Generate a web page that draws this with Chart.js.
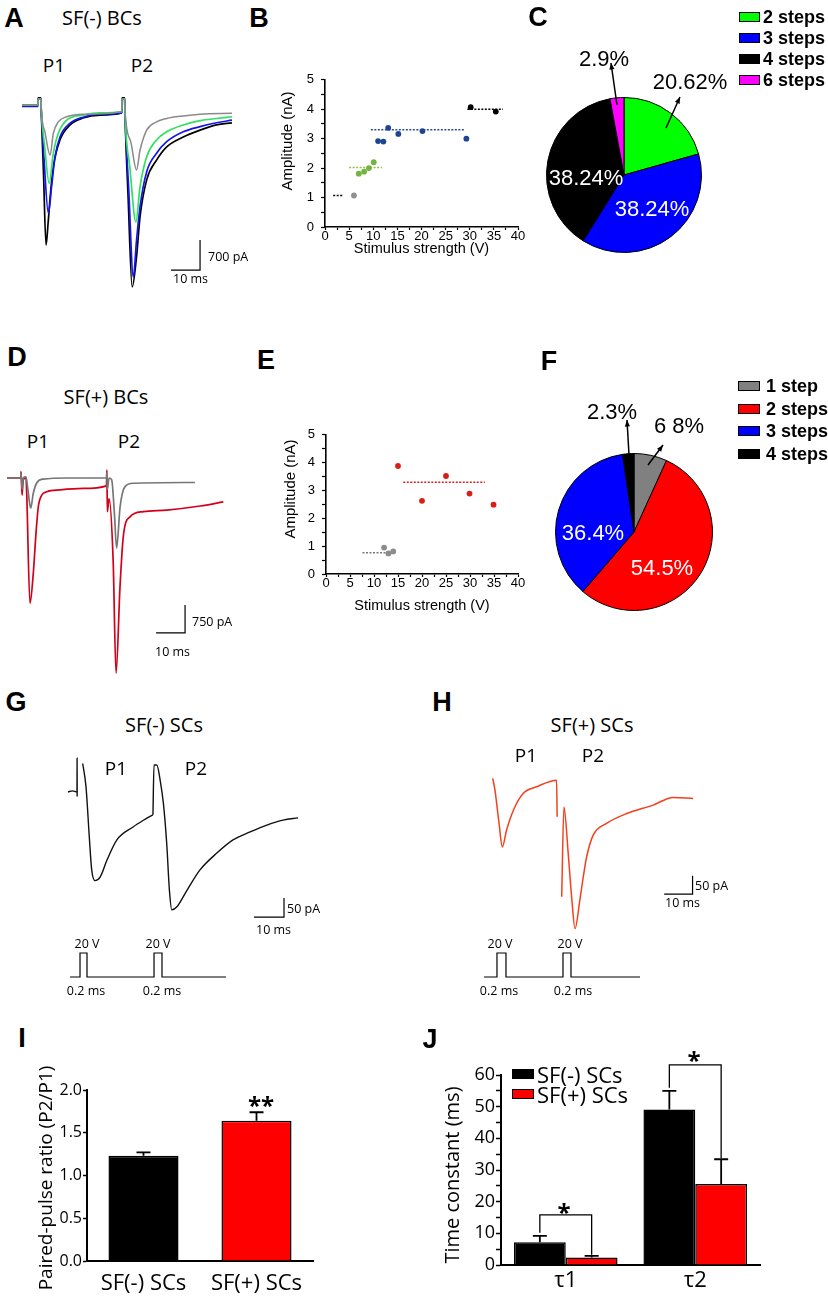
<!DOCTYPE html>
<html>
<head>
<meta charset="utf-8">
<script src="https://cdn.jsdelivr.net/npm/chart.js"></script>
<style>
  body { margin: 0; background: #fff; }
  #fig { position: relative; width: 828px; height: 1300px; overflow: hidden; background: #fff; color: #000; font-family: 'Open Sans', sans-serif; }
  #fig canvas { position: absolute; }
  .t { position: absolute; white-space: nowrap; line-height: 1; transform: translate(-50%, -50%); }
  .t.l { transform: translate(0, -50%); }
  .t.rot { writing-mode: vertical-rl; transform: translate(-50%, -50%) rotate(180deg); }
  .let { font-family: 'Liberation Sans', Arial, sans-serif; font-weight: bold; font-size: 27px; }
  .ttl { font-size: 20px; }
  .p { font-size: 19px; }
  .sb, .st { font-size: 12.5px; }
  .pct { font-family: 'Liberation Sans', Arial, sans-serif; font-size: 22px; }
  .leg { font-family: 'Liberation Sans', Arial, sans-serif; font-weight: bold; font-size: 18px; }
  .jleg { font-size: 22px; }
  .star { font-size: 24px; font-weight: bold; }
  .ya { font-family: 'Liberation Sans', Arial, sans-serif; font-size: 15px; }
  .yj { font-size: 20px; }
  .box { position: absolute; box-sizing: border-box; border: 1px solid #000; }
</style>
</head>
<body>
<div id="fig">
  <canvas id="cA" width="230" height="210" style="left:15px;top:88px"></canvas>
  <canvas id="cB" width="260" height="200" style="left:270px;top:65px"></canvas>
  <canvas id="cC" width="288" height="262" style="left:540px;top:0px"></canvas>
  <canvas id="cD" width="240" height="225" style="left:0px;top:455px"></canvas>
  <canvas id="cE" width="260" height="200" style="left:270px;top:420px"></canvas>
  <canvas id="cF" width="288" height="280" style="left:540px;top:340px"></canvas>
  <canvas id="cG" width="260" height="185" style="left:55px;top:745px"></canvas>
  <canvas id="cGs" width="180" height="42" style="left:60px;top:945px"></canvas>
  <canvas id="cH" width="235" height="180" style="left:480px;top:760px"></canvas>
  <canvas id="cHs" width="180" height="42" style="left:475px;top:945px"></canvas>
  <canvas id="cI" width="305" height="245" style="left:25px;top:1055px"></canvas>
  <canvas id="cJ" width="340" height="260" style="left:430px;top:1040px"></canvas>
</div>
<script>
// ---------- A: SF(-) BCs, [time ms, current nA]
const A_GREY = [[0,-0.05],[5.5,-0.05],[5.55,0.1],[6.5,0.1],[6.6,-0.1],[8.0,-0.7],[9.7,-1.21],[10.8,-0.71],[12.5,-0.44],[15.4,-0.32],[21.1,-0.26],[34.4,-0.2],
  [34.5,0.1],[35.4,0.1],[35.5,-0.15],[37.5,-0.9],[39.5,-1.56],[40.7,-1.10],[43.0,-0.63],[46.4,-0.44],[49.9,-0.36],[55.6,-0.30],[61.4,-0.26],[72.4,-0.24]];
const A_GREEN = [[0,-0.05],[5.5,-0.05],[5.55,0.1],[6.5,0.1],[6.6,-0.1],[7.8,-1.0],[9.4,-1.87],[10.8,-1.17],[12.5,-0.71],[15.4,-0.40],[21.1,-0.28],[26.9,-0.23],[34.4,-0.2],
  [34.5,0.1],[35.4,0.1],[35.5,-0.2],[37.2,-1.5],[39.3,-2.77],[40.7,-1.95],[43.0,-1.25],[46.4,-0.86],[49.9,-0.67],[55.6,-0.51],[61.4,-0.41],[67.1,-0.36],[72.4,-0.32]];
const A_BLUE = [[0,-0.08],[5.5,-0.08],[5.55,0.1],[6.5,0.1],[6.6,-0.1],[7.6,-1.3],[9.1,-2.57],[10.2,-1.95],[11.4,-1.25],[13.1,-0.79],[16.6,-0.47],[21.1,-0.33],[26.9,-0.26],[34.4,-0.23],
  [34.5,0.1],[35.4,0.1],[35.5,-0.2],[36.8,-2.0],[38.4,-4.05],[39.5,-3.2],[40.7,-2.42],[43.0,-1.6],[46.4,-1.17],[49.9,-0.90],[55.6,-0.67],[61.4,-0.55],[67.1,-0.46],[72.4,-0.40]];
const A_BLACK = [[0,-0.05],[5.5,-0.05],[5.55,0.12],[6.5,0.12],[6.6,-0.1],[7.4,-1.6],[8.3,-3.31],[9.0,-2.8],[9.7,-2.2],[10.8,-1.49],[13.1,-0.86],[16.6,-0.51],[21.0,-0.35],[26.9,-0.28],[34.4,-0.23],
  [34.5,0.12],[35.4,0.12],[35.5,-0.2],[36.6,-2.2],[38.0,-4.28],[39.5,-3.58],[40.7,-2.65],[43.0,-1.79],[46.4,-1.33],[49.9,-1.02],[55.6,-0.79],[61.4,-0.63],[67.1,-0.51],[72.4,-0.46]];
const A_SCALE = [[61.4,-3.19],[61.4,-3.89],[51.4,-3.89]];   // 700 pA, 10 ms

// ---------- B: amplitude (nA) vs stimulus (V), grouped by number of steps
const B_V1 = [6.0],                          B_A1 = [1.07];
const B_V2 = [7.0, 8.1, 9.1, 10.1],          B_A2 = [1.81, 1.88, 2.0, 2.2];
const B_V3 = [11.0, 12.1, 13.1, 15.2, 20.2, 29.3], B_A3 = [2.92, 2.9, 3.37, 3.16, 3.26, 3.0];
const B_V4 = [30.2, 35.4],                   B_A4 = [4.07, 3.92];
const B_MEAN = [1.07, 2.02, 3.3, 4.0];
const B_MEAN_FROM = [1.7, 5.0, 9.5, 29.5];
const B_MEAN_TO = [3.7, 11.8, 28.8, 36.9];

// ---------- C: share of steps
const C_LABELS = ['2 steps', '3 steps', '4 steps', '6 steps'];
const C_VALUES = [20.62, 38.24, 38.24, 2.9];
const C_COLORS = ['#00ff00', '#0000ff', '#000000', '#ff00ff'];

// ---------- D: SF(+) BCs
const D_GREY = [[0,0],[4.8,0],[4.83,0.15],[5.2,-0.3],[5.6,0],[6.55,0.03],[7.2,-0.3],[8.17,-0.81],[9.07,-0.41],[10.2,-0.14],[12.5,-0.03],[20.7,0],[34.3,0],
  [34.45,0.15],[34.6,-0.3],[35.2,0],[36.1,-0.05],[37.0,-0.9],[37.8,-1.88],[39.0,-0.77],[40.7,-0.23],[43.6,-0.14],[64.8,-0.12]];
const D_RED = [[0,0],[4.8,0],[4.83,0.17],[5.2,-0.46],[5.6,-0.05],[6.55,0],[6.8,-0.41],[7.93,-3.36],[9.07,-2.55],[10.0,-1.48],[10.8,-0.77],[12.0,-0.46],[13.7,-0.37],[18.3,-0.32],[26.3,-0.28],[34.3,-0.21],
  [34.45,0.21],[34.6,-0.9],[35.2,-0.55],[36.6,-2.2],[37.6,-5.23],[38.97,-2.91],[40.1,-1.57],[42.4,-1.04],[47.0,-0.90],[55.1,-0.86],[66.6,-0.75],[74.6,-0.64]];
const D_SCALE = [[61.4,-3.40],[61.4,-4.15],[51.4,-4.15]];   // 750 pA, 10 ms

// ---------- E
const E_V1 = [12.1, 13.0, 14.0],             E_A1 = [0.95, 0.74, 0.81];
const E_V2 = [15.0, 20.0, 25.0, 29.9, 34.9], E_A2 = [3.88, 2.63, 3.52, 2.89, 2.49];
const E_MEAN = [0.76, 3.30];
const E_MEAN_FROM = [7.6, 16.1];
const E_MEAN_TO = [13.8, 33.1];

// ---------- F
const F_LABELS = ['1 step', '2 steps', '3 steps', '4 steps'];
const F_VALUES = [6.8, 54.5, 36.4, 2.3];
const F_COLORS = ['#808080', '#ff0000', '#0000ff', '#000000'];
const F_PCT_TEXT = ['6 8%', '54.5%', '36.4%', '2.3%'];

// ---------- G / H: SCs, [time ms, current pA]; null = gap
const G_TRACE = [[0,0],[1.5,3],[3.0,0],[3.03,89],[3.06,-12],[3.1,null],[4.9,75],[6.0,14],[7.1,-118],[7.9,-205],[9.0,-233],[10.7,-224],[13.0,-179],[16.3,-126],[21.7,-92],[25.0,-75],[28.3,-60],[28.31,null],
  [28.32,-60],[28.67,71],[29.6,71],[30.7,32],[31.8,-30],[32.9,-135],[33.8,-258],[34.6,-310],[36.3,-302],[39.7,-258],[44.0,-205],[49.7,-160],[55.0,-126],[60.7,-105],[66.3,-87],[71.7,-74],[76.7,-68]];
const G_SCALE = [[72,-279],[72,-329],[62,-329]];   // 50 pA, 10 ms
const G_STIM = [[0.67,0],[4.0,20],[6.33,0],[28.67,20],[31.33,0],[52.67,0]];   // V

const H_TRACE = [[0,0],[0.8,-32],[2.2,-120],[3.4,-187],[4.9,-141],[7.3,-87],[10.8,-41],[15.5,-23],[22.5,-5],[22.7,-105],[23.0,null],
  [24.3,-323],[25.1,-78],[26.6,-205],[27.8,-323],[29.0,-410],[30.7,-332],[31.9,-269],[33.1,-214],[35.4,-155],[40.1,-123],[47.2,-96],[56.5,-73],[63.6,-52],[70.6,-55]];
const H_SCALE = [[70.4,-266],[70.4,-316],[60.4,-316]];
const H_STIM = [[-3.06,0],[1.51,20],[4.68,0],[24.75,20],[27.57,0],[51.87,0]];

// ---------- I: paired-pulse ratio
const I_GROUPS = ['SF(-) SCs', 'SF(+) SCs'];
const I_RATIO = [1.23, 1.64];
const I_SEM = [0.04, 0.10];
const I_COLORS = ['#000000', '#ff0000'];

// ---------- J: decay time constants (ms)
const J_GROUPS = ['τ1', 'τ2'];
const J_SERIES = ['SF(-) SCs', 'SF(+) SCs'];
const J_COLORS = ['#000000', '#ff0000'];
const J_NEG = [7.2, 49.1], J_NEG_SEM = [2.0, 5.9];
const J_POS = [2.4, 25.6], J_POS_SEM = [0.5, 7.8];
const J_SIG_LEVEL = [15.8, 63.2];

// ---------- page helpers
const fig = document.getElementById('fig');
function addText(str, x, y, cls, color) {
  const d = document.createElement('div');
  d.className = 't ' + cls;
  d.textContent = str;
  d.style.left = x + 'px';
  d.style.top = y + 'px';
  if (color) d.style.color = color;
  fig.appendChild(d);
}
function addBox(x, y, w, h, color) {
  const d = document.createElement('div');
  d.className = 'box';
  Object.assign(d.style, { left: x + 'px', top: y + 'px', width: w + 'px', height: h + 'px', background: color });
  fig.appendChild(d);
}

Chart.defaults.animation = false;
Chart.defaults.responsive = false;
Chart.defaults.events = [];
Chart.defaults.color = '#000';
Chart.defaults.font.family = "'Open Sans', sans-serif";
Chart.defaults.plugins.legend.display = false;
Chart.defaults.plugins.tooltip.enabled = false;

// arrows, error bars, significance brackets, long y title
const extras = {
  id: 'extras',
  afterDatasetsDraw(chart, args, o) {
    const ctx = chart.ctx;
    ctx.save();
    ctx.strokeStyle = '#000';
    ctx.fillStyle = '#000';
    ctx.lineWidth = 1.5;
    (o.arrows || []).forEach(([x1, y1, x2, y2]) => {
      ctx.beginPath(); ctx.moveTo(x1, y1); ctx.lineTo(x2, y2); ctx.stroke();
      const a = Math.atan2(y2 - y1, x2 - x1), h = 7;
      ctx.beginPath();
      ctx.moveTo(x2, y2);
      ctx.lineTo(x2 - h * Math.cos(a - 0.38), y2 - h * Math.sin(a - 0.38));
      ctx.lineTo(x2 - h * Math.cos(a + 0.38), y2 - h * Math.sin(a + 0.38));
      ctx.closePath(); ctx.fill();
    });
    if (o.errorBars) {
      const y = chart.scales.y;
      ctx.lineWidth = 1.8;
      chart.data.datasets.forEach((ds, i) => {
        chart.getDatasetMeta(i).data.forEach((bar, j) => {
          const top = y.getPixelForValue(ds.data[j] + ds.errors[j]);
          ctx.beginPath();
          ctx.moveTo(bar.x, bar.y); ctx.lineTo(bar.x, top);
          ctx.moveTo(bar.x - o.cap, top); ctx.lineTo(bar.x + o.cap, top);
          ctx.stroke();
        });
      });
    }
    (o.brackets || []).forEach((level, j) => {
      const y = chart.scales.y;
      const d0 = chart.data.datasets[0], d1 = chart.data.datasets[1];
      const a = chart.getDatasetMeta(0).data[j], b = chart.getDatasetMeta(1).data[j];
      const yl = y.getPixelForValue(level);
      ctx.lineWidth = 1.3;
      ctx.beginPath();
      ctx.moveTo(a.x, y.getPixelForValue(d0.data[j] + d0.errors[j]) - 3);
      ctx.lineTo(a.x, yl); ctx.lineTo(b.x, yl);
      ctx.lineTo(b.x, y.getPixelForValue(d1.data[j] + d1.errors[j]) - 1);
      ctx.stroke();
    });
    if (o.yTitle) {
      // axis title longer than the axis: Chart.js would squeeze it, so draw it unclamped
      const { text, x, y, size } = o.yTitle;
      ctx.translate(x, y);
      ctx.rotate(-Math.PI / 2);
      ctx.font = size + "px 'Open Sans', sans-serif";
      ctx.textAlign = 'center';
      ctx.textBaseline = 'middle';
      ctx.fillText(text, 0, 0);
    }
    ctx.restore();
  }
};

const xy = arr => arr.map(p => ({ x: p[0], y: p[1] }));

function traceSet(data, color, width) {
  return { data: xy(data), showLine: true, borderColor: color, borderWidth: width, pointRadius: 0,
           cubicInterpolationMode: 'monotone', spanGaps: false };
}
function scaleBarSet(data) {
  return { data: xy(data), showLine: true, borderColor: '#000', borderWidth: 1.2, pointRadius: 0, tension: 0 };
}
function stimSet(data) {
  return { data: xy(data), showLine: true, stepped: true, borderColor: '#000', borderWidth: 1.2, pointRadius: 0 };
}
function traceChart(id, datasets, xr, yr) {
  return new Chart(document.getElementById(id), {
    type: 'scatter',
    data: { datasets },
    options: {
      layout: { padding: 0 },
      scales: {
        x: { type: 'linear', display: false, min: xr[0], max: xr[1] },
        y: { type: 'linear', display: false, min: yr[0], max: yr[1] }
      }
    }
  });
}

// A
traceChart('cA', [
  traceSet(A_GREY, '#8a8a8a', 1.5),
  traceSet(A_GREEN, '#30e060', 1.7),
  traceSet(A_BLUE, '#1414ee', 1.7),
  traceSet(A_BLACK, '#000000', 1.7),
  scaleBarSet(A_SCALE)
], [-2.41, 76.9], [-4.54, 0.35]);

// D
traceChart('cD', [
  traceSet(D_GREY, '#767676', 1.7),
  traceSet(D_RED, '#d2001a', 1.7),
  scaleBarSet(D_SCALE)
], [-2.41, 80.34], [-5.41, 0.616]);

// G, H
traceChart('cG', [traceSet(G_TRACE, '#111111', 1.4), scaleBarSet(G_SCALE)], [-4.33, 82.33], [-363, 123.6]);
traceChart('cGs', [stimSet(G_STIM)], [-2.67, 57.33], [-8.33, 26.67]);
traceChart('cH', [traceSet(H_TRACE, '#f4401c', 1.5), scaleBarSet(H_SCALE)], [-4.47, 78.3], [-441, 50]);
traceChart('cHs', [stimSet(H_STIM)], [-6.23, 57.15], [-8.33, 26.67]);

// B, E
const dots = (vs, as, color) => ({ data: vs.map((v, i) => ({ x: v, y: as[i] })), showLine: false,
  pointRadius: 2.9, pointBackgroundColor: color, pointBorderWidth: 0 });
const meanLine = (from, to, level, color) => ({ data: [{ x: from, y: level }, { x: to, y: level }], showLine: true,
  borderColor: color, borderWidth: 1.5, borderDash: [2, 1.5], pointRadius: 0 });

function strengthChart(id, datasets, L) {
  const fam = "'Liberation Sans', Arial, sans-serif";
  const mkGrid = (len) => ({ display: true, drawOnChartArea: false, drawTicks: true, tickLength: len, tickColor: '#000', tickWidth: 1.2 });
  const mkBorder = () => ({ display: true, color: '#000', width: 1.6 });
  return new Chart(document.getElementById(id), {
    type: 'scatter',
    data: { datasets },
    options: {
      layout: { padding: L.padding },
      scales: {
        x: { type: 'linear', min: 0, max: 40, grid: mkGrid(3), border: mkBorder(),
             ticks: { stepSize: 2.5, autoSkip: false, maxRotation: 0, padding: 0, color: '#000',
                      font: { family: fam, size: 13, lineHeight: 1 }, callback: v => (v % 5 === 0 ? v : '') },
             title: { display: true, text: 'Stimulus strength (V)', color: '#000', font: { family: fam, size: 14.5 },
                      padding: { top: 0, bottom: L.xTitlePad } },
             afterFit: s => { s.height = L.xHeight; } },
        y: { type: 'linear', min: 0, max: 5, grid: mkGrid(4), border: mkBorder(),
             ticks: { stepSize: 0.5, autoSkip: false, padding: 7, color: '#000',
                      font: { family: fam, size: 13 }, callback: v => (Number.isInteger(v) ? v : '') },
             afterFit: s => { s.width = L.yWidth; } }
      }
    }
  });
}

strengthChart('cB', [
  dots(B_V1, B_A1, '#909090'),
  dots(B_V2, B_A2, '#72b43c'),
  dots(B_V3, B_A3, '#1d4594'),
  dots(B_V4, B_A4, '#000000'),
  meanLine(B_MEAN_FROM[0], B_MEAN_TO[0], B_MEAN[0], '#000000'),
  meanLine(B_MEAN_FROM[1], B_MEAN_TO[1], B_MEAN[1], '#8cc152'),
  meanLine(B_MEAN_FROM[2], B_MEAN_TO[2], B_MEAN[2], '#2a4a9a'),
  meanLine(B_MEAN_FROM[3], B_MEAN_TO[3], B_MEAN[3], '#000000')
], { padding: { top: 12, right: 12, left: 0, bottom: 0 }, yWidth: 55, xHeight: 38, xTitlePad: 7 });

strengthChart('cE', [
  dots(E_V1, E_A1, '#8c8c8c'),
  dots(E_V2, E_A2, '#d91e18'),
  meanLine(E_MEAN_FROM[0], E_MEAN_TO[0], E_MEAN[0], '#777777'),
  meanLine(E_MEAN_FROM[1], E_MEAN_TO[1], E_MEAN[1], '#d42020')
], { padding: { top: 14, right: 12, left: 0, bottom: 0 }, yWidth: 56, xHeight: 46, xTitlePad: 5 });

// C, F pies
function pieChart(id, labels, values, colors, pad, arrows) {
  return new Chart(document.getElementById(id), {
    type: 'pie',
    data: { labels, datasets: [{ data: values, backgroundColor: colors, borderColor: '#000', borderWidth: 1 }] },
    options: { layout: { padding: pad }, plugins: { extras: { arrows } } },
    plugins: [extras]
  });
}
pieChart('cC', C_LABELS, C_VALUES, C_COLORS, { left: 6, right: 126, top: 97, bottom: 9 },
  [[126, 128, 140, 97], [77, 105, 71, 63]]);
pieChart('cF', F_LABELS, F_VALUES, F_COLORS, { left: 15, right: 115, top: 113, bottom: 9 },
  [[89, 115, 87, 80], [108, 125, 123, 105]]);

// I, J bars
function barChart(id, labels, datasets, L) {
  return new Chart(document.getElementById(id), {
    type: 'bar',
    data: { labels, datasets },
    options: {
      layout: { padding: L.padding },
      plugins: { extras: { errorBars: true, cap: 7, brackets: L.brackets, yTitle: L.yTitle } },
      scales: {
        x: { grid: { display: true, drawOnChartArea: false, drawTicks: false },
             border: { display: true, color: '#000', width: 2 },
             ticks: { font: { size: 22 }, color: '#000', padding: L.xPad },
             afterFit: s => { s.height = L.xHeight; } },
        y: { min: 0, max: L.max,
             grid: { display: true, drawOnChartArea: false, tickLength: L.tl, tickColor: '#000', tickWidth: 1.5 },
             border: { display: true, color: '#000', width: 2 },
             ticks: { stepSize: L.step, autoSkip: false, font: { size: L.tickSize }, color: '#000', padding: 1, callback: L.fmt },
             afterFit: s => { s.width = L.yWidth; } }
      }
    },
    plugins: [extras]
  });
}

barChart('cI', I_GROUPS, [{
  data: I_RATIO, errors: I_SEM, backgroundColor: I_COLORS, borderColor: '#000', borderWidth: 1.5,
  barPercentage: 0.62, categoryPercentage: 1
}], { padding: { top: 35, right: 17, left: 0, bottom: 0 }, yWidth: 62, xHeight: 39, xPad: 10,
      max: 2, step: 0.5, tl: 4, tickSize: 16, fmt: v => v.toFixed(1),
      yTitle: { text: 'Paired-pulse ratio (P2/P1)', x: 22, y: 123, size: 19 } });

barChart('cJ', J_GROUPS, [
  { label: J_SERIES[0], data: J_NEG, errors: J_NEG_SEM, backgroundColor: J_COLORS[0], borderColor: '#000', borderWidth: 1.5,
    barPercentage: 1, categoryPercentage: 0.8 },
  { label: J_SERIES[1], data: J_POS, errors: J_POS_SEM, backgroundColor: J_COLORS[1], borderColor: '#000', borderWidth: 1.5,
    barPercentage: 1, categoryPercentage: 0.8 }
], { padding: { top: 35, right: 10, left: 0, bottom: 0 }, yWidth: 71, xHeight: 35, xPad: 3,
     max: 60, step: 5, tl: 5, tickSize: 18, fmt: v => (v % 10 === 0 ? v : ''), brackets: J_SIG_LEVEL });

// ---------- text
[['A', 14, 18], ['B', 259, 18], ['C', 538, 17], ['D', 17, 357], ['E', 266, 360], ['F', 549, 361],
 ['G', 16, 702], ['H', 442, 702], ['I', 22, 1038], ['J', 430, 1039]].forEach(([s, x, y]) => addText(s, x, y, 'let'));

[['SF(-) BCs', 102, 18, 'ttl'], ['P1', 54, 65, 'p'], ['P2', 142, 65, 'p'],
 ['SF(+) BCs', 106, 397, 'ttl'], ['P1', 38, 441, 'p'], ['P2', 129, 441, 'p'],
 ['SF(-) SCs', 164, 725, 'ttl'], ['P1', 116, 768, 'p'], ['P2', 196, 768, 'p'],
 ['SF(+) SCs', 592, 725, 'ttl'], ['P1', 526, 755, 'p'], ['P2', 593, 755, 'p'],
 ['700 pA', 208, 257, 'sb l'], ['10 ms', 173, 279, 'sb l'],
 ['750 pA', 192, 622, 'sb l'], ['10 ms', 155, 652, 'sb l'],
 ['50 pA', 287, 909, 'sb l'], ['10 ms', 256, 930, 'sb l'],
 ['50 pA', 695, 886, 'sb l'], ['10 ms', 665, 903, 'sb l'],
 ['20 V', 87, 944, 'st'], ['20 V', 158, 944, 'st'], ['0.2 ms', 86, 991, 'st'], ['0.2 ms', 162, 991, 'st'],
 ['20 V', 500, 944, 'st'], ['20 V', 570, 944, 'st'], ['0.2 ms', 499, 991, 'st'], ['0.2 ms', 573, 991, 'st'],
 ['**', 261, 1105, 'star'], ['*', 564, 1212, 'star'], ['*', 694, 1060, 'star'],
 // rotated y-axis titles
 ['Amplitude (nA)', 286, 141, 'rot ya'], ['Amplitude (nA)', 289, 489, 'rot ya'],
 ['Time constant (ms)', 452, 1175, 'rot yj']
].forEach(([s, x, y, c]) => addText(s, x, y, c));

// pie percentages (slice order) and legends
const C_PCT_POS = [[690, 82, '#000'], [652, 209, '#fff'], [586, 178, '#fff'], [604, 59, '#000']];
C_VALUES.forEach((v, i) => addText(v + '%', C_PCT_POS[i][0], C_PCT_POS[i][1], 'pct', C_PCT_POS[i][2]));
const F_PCT_POS = [[679, 426, '#000'], [662, 568, '#fff'], [593, 533, '#fff'], [612, 412, '#000']];
F_PCT_TEXT.forEach((s, i) => addText(s, F_PCT_POS[i][0], F_PCT_POS[i][1], 'pct', F_PCT_POS[i][2]));

C_LABELS.forEach((s, i) => { const y = 17 + i * 21; addBox(739, y - 5, 21, 10, C_COLORS[i]); addText(s, 763, y, 'leg l'); });
F_LABELS.forEach((s, i) => { const y = 386 + i * 22.5; addBox(738, y - 5, 22, 10, F_COLORS[i]); addText(s, 766, y, 'leg l'); });
J_SERIES.forEach((s, i) => { const y = 1074 + i * 20; addBox(512, y - 5, 22, 10, J_COLORS[i]); addText(s, 537, y, 'jleg l'); });
</script>
</body>
</html>
